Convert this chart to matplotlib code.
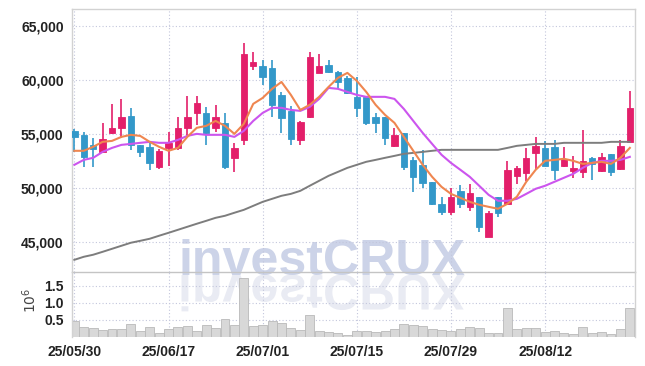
import numpy as np
import matplotlib
matplotlib.use("Agg")
import matplotlib.pyplot as plt
from matplotlib.textpath import TextPath
from matplotlib.patches import PathPatch
from matplotlib.font_manager import FontProperties
from matplotlib.transforms import Affine2D, IdentityTransform

# x tick labels (every 10 trading days)
tick_pos = [0, 10, 20, 30, 40, 50]
tick_labels = ['25/05/30', '25/06/17', '25/07/01', '25/07/15', '25/07/29', '25/08/12']

# daily candles
opens = [55280, 54910, 53980, 53330, 55090, 55560, 56670, 53980, 53800, 51960,
         53680, 53700, 55560, 56940, 56940, 55560, 56020, 52780, 54440, 61300,
         61300, 61110, 58610, 57130, 54440, 56570, 60650, 61390, 60740, 60190,
         58430, 58430, 56570, 56570, 53890, 55090, 52590, 52130, 50560, 48520,
         47780, 49720, 48240, 49170, 45460, 49170, 48520, 51110, 51390, 53240,
         53700, 53800, 52040, 51570, 51480, 52780, 51570, 53150, 51760, 54260]
highs = [55460, 55210, 54630, 56020, 57780, 58240, 57410, 53980, 54170, 53610,
         55210, 56570, 58520, 58520, 57500, 57690, 56940, 54170, 63430, 62590,
         61850, 61850, 58890, 57590, 56200, 62590, 62410, 61850, 60830, 60370,
         60280, 58430, 56940, 56570, 55560, 55090, 52870, 53520, 50560, 49170,
         50000, 50280, 50370, 49170, 47870, 49170, 52500, 52040, 53700, 54720,
         54350, 54440, 53800, 52960, 55370, 52870, 53240, 53150, 54440, 58980]
lows = [53330, 51970, 51970, 53240, 55000, 54630, 53520, 52870, 51670, 51700,
        52040, 53520, 54720, 55830, 53980, 55190, 51760, 51480, 53980, 60930,
        59540, 56570, 55090, 53980, 53980, 56480, 60650, 60650, 59260, 58700,
        56570, 55830, 55090, 53980, 53800, 51670, 49630, 50000, 48430, 47500,
        47500, 48150, 47870, 45930, 45460, 47320, 48430, 50370, 50650, 51670,
        52040, 50740, 51940, 50930, 50930, 50740, 51480, 51110, 51670, 54260]
closes = [54720, 52870, 53610, 54540, 55560, 56570, 53980, 53330, 52310, 53430,
          54190, 55560, 56570, 57870, 55090, 56570, 51940, 53700, 62410, 61670,
          60280, 57690, 56480, 54540, 56110, 62130, 61300, 60740, 59820, 58800,
          57410, 56020, 56020, 54630, 54910, 51940, 51020, 50460, 48520, 47780,
          49170, 48520, 49540, 46390, 47690, 47690, 51670, 51850, 52780, 53890,
          52040, 51670, 52690, 51850, 52500, 52220, 52870, 51480, 53890, 57410]

# moving averages as drawn
ma_short = [53430, 53430, 53800, 54260, 54350, 54720, 54910, 54810, 54260, 53800,
            53430, 53700, 54720, 55560, 55740, 56200, 55740, 55000, 55930, 57780,
            58330, 59170, 59810, 58610, 57220, 57690, 58430, 59350, 60190, 60650,
            59910, 58890, 57690, 56760, 56020, 54720, 53430, 52130, 51020, 50090,
            49440, 49070, 48700, 48430, 48240, 48060, 48520, 49170, 50560, 51670,
            52500, 52590, 52690, 52500, 52220, 52310, 52410, 52220, 52780, 53700]
ma_mid = [52130, 52590, 52780, 53330, 53700, 53980, 54070, 54170, 54260, 54170,
          54170, 54440, 54810, 55000, 54910, 54910, 54910, 54720, 55280, 56200,
          56940, 57410, 57410, 57220, 57130, 57500, 58240, 59260, 59170, 58890,
          58610, 58430, 58430, 58430, 58240, 57310, 56200, 55090, 54070, 53060,
          52310, 51670, 51020, 50190, 49350, 48800, 48800, 48980, 49440, 49910,
          50190, 50560, 50930, 51300, 51850, 52310, 52500, 52500, 52590, 52870]
ma_long = [43330, 43610, 43800, 44070, 44350, 44630, 44910, 45090, 45280, 45560,
           45830, 46110, 46390, 46670, 46940, 47220, 47410, 47690, 47960, 48330,
           48700, 48980, 49260, 49440, 49720, 50190, 50650, 51110, 51480, 51850,
           52130, 52410, 52590, 52780, 52960, 53150, 53240, 53330, 53430, 53520,
           53520, 53520, 53520, 53520, 53520, 53520, 53700, 53890, 53980, 54070,
           54070, 54070, 54170, 54170, 54170, 54170, 54170, 54260, 54260, 54260]

# volume, millions
volume = [0.47, 0.29, 0.26, 0.20, 0.23, 0.23, 0.37, 0.18, 0.29, 0.11,
          0.23, 0.29, 0.32, 0.18, 0.34, 0.26, 0.52, 0.34, 1.73, 0.32,
          0.34, 0.47, 0.40, 0.26, 0.20, 0.65, 0.18, 0.14, 0.11, 0.06,
          0.19, 0.17, 0.16, 0.19, 0.23, 0.38, 0.35, 0.32, 0.24, 0.21,
          0.18, 0.24, 0.29, 0.26, 0.13, 0.13, 0.86, 0.24, 0.26, 0.26,
          0.16, 0.18, 0.13, 0.09, 0.30, 0.13, 0.14, 0.09, 0.23, 0.84]

up_col = '#e31f6a'
down_col = '#3398c9'
grid_col = '#c3c6dc'
spine_col = '#d2d2d2'

lab_fp = FontProperties(family='Liberation Sans', weight='bold', size=10)

W, H = 645, 366
fig = plt.figure(figsize=(W / 100, H / 100), dpi=100)
ax = fig.add_axes([72 / W, (H - 272) / H, 563 / W, 263 / H])
axv = fig.add_axes([72 / W, (H - 337) / H, 563 / W, 65 / H])

x = np.arange(len(opens))
o = np.array(opens)
c = np.array(closes)
cols = [up_col if cc >= oo else down_col for oo, cc in zip(o, c)]

ax.vlines(x, lows, highs, colors=cols, linewidth=1.2, zorder=3)
body = np.maximum(np.abs(c - o), 60)
ax.bar(x, body, bottom=np.minimum(o, c), width=0.68, color=cols,
       edgecolor=cols, linewidth=0.6, zorder=4)

ax.plot(x, ma_long, color='#7d7d7d', lw=1.4, zorder=5)
ax.plot(x, ma_mid, color='#cc55ee', lw=1.5, zorder=5)
ax.plot(x, ma_short, color='#ef8650', lw=1.5, zorder=5)

ax.set_xlim(-0.25, 59.55)
ax.set_ylim(42200, 66570)
ax.set_yticks([45000, 50000, 55000, 60000, 65000])
ax.set_yticklabels(['45,000', '50,000', '55,000', '60,000', '65,000'])
ax.set_xticks(tick_pos)
ax.tick_params(axis='x', labelbottom=False, length=0)
ax.tick_params(axis='y', length=0, pad=6, colors='#222222')

axv.bar(x, volume, width=0.95, color='#d8d8d8', edgecolor='#b9b9b9', linewidth=0.6)
axv.set_xlim(ax.get_xlim())
axv.set_ylim(0, 1.91)
axv.set_yticks([0.5, 1.0, 1.5])
axv.set_yticklabels(['0.5', '1.0', '1.5'])
axv.set_xticks(tick_pos)
axv.set_xticklabels(tick_labels)
axv.tick_params(length=0, pad=6, colors='#222222')

for t in ax.get_yticklabels() + axv.get_yticklabels() + axv.get_xticklabels():
    t.set_fontproperties(lab_fp)

for a in (ax, axv):
    a.set_facecolor('none')
    a.grid(True, color=grid_col, linestyle=(0, (1, 2)), linewidth=0.8)
    a.set_axisbelow(True)
    for s in a.spines.values():
        s.set_color(spine_col)
        s.set_linewidth(1.0)
ax.spines['bottom'].set_color('#c4c4c4')
axv.spines['top'].set_visible(False)
axv.spines['bottom'].set_visible(False)

fig.text(30 / W, (H - 300) / H, r'$10^6$', rotation=90, fontsize=10,
         color='#444444', ha='center', va='center')

# watermark (real text) with a mirrored copy below it
wm_fp = FontProperties(family='Liberation Sans', weight='bold')
wm_size = 36
base = H - 275
wm = fig.text(178 / W, base / H, 'investCRUX', fontproperties=wm_fp, fontsize=wm_size,
              color='#ccd3e8', ha='left', va='baseline', zorder=-1)
fig.canvas.draw()
wbb = wm.get_window_extent()
wm_size = wm_size * 287 / wbb.width
wm.set_fontsize(wm_size)

tp = TextPath((0, 0), 'investCRUX', size=wm_size * 100 / 72, prop=wm_fp)
refl_path = Affine2D().scale(1, -1).translate(178, base).transform_path(tp)
fig.add_artist(PathPatch(refl_path, transform=IdentityTransform(),
                         facecolor='#e9ebf3', edgecolor='none', zorder=-1))

fig.savefig('out.png', dpi=100)
